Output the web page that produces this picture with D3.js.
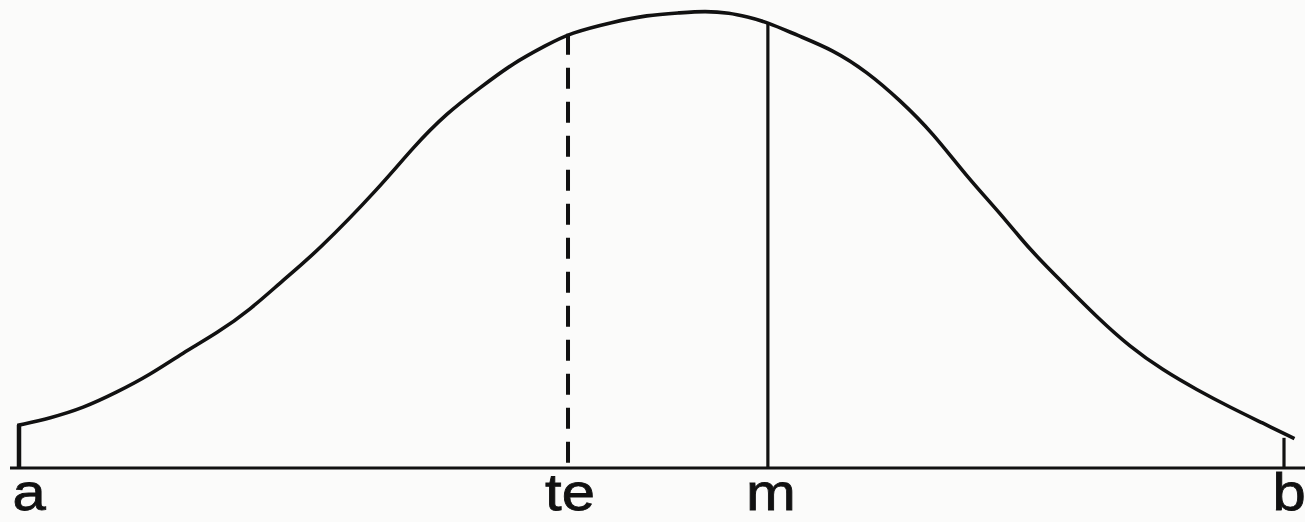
<!DOCTYPE html>
<html>
<head>
<meta charset="utf-8">
<script src="https://cdn.jsdelivr.net/npm/d3@7"></script>
<style>
  html, body { margin: 0; padding: 0; background: #fbfbfa; }
  svg { display: block; }
</style>
</head>
<body>
<script>
// curve samples (t: position between a and b, v: relative height)
const curveT = [0, 2.45, 5.06, 7.75, 10.36, 12.96, 15.65, 18.26, 20.87, 23.56, 28.54, 31.15, 33.83, 36.44, 39.05, 41.74, 43.56, 46.96, 49.64, 52.25, 54.23, 56.21, 57.55, 59.13, 61.5, 64.35, 67.04, 69.64, 72.25, 74.94, 77.55, 79.92, 82.53, 85.22, 87.83, 90.43, 93.12, 95.73, 98.34, 100.7];
const curveV = [9.4, 10.9, 13.1, 16.6, 20.4, 25.2, 29.5, 34.6, 41.1, 47.3, 61.5, 70.2, 77.7, 83.2, 88.6, 92.6, 95.2, 97.6, 99.1, 99.6, 100, 99.6, 98.7, 97.6, 94.7, 91.5, 86.7, 80.5, 73.3, 63.7, 55.8, 47.7, 40.5, 33.0, 26.5, 21.4, 17.1, 13.3, 9.8, 6.6];

// marked positions on the base line
const markLabels = ["a", "te", "m", "b"];
const markT = [0, 43.4, 59.2, 100];
const markTop = [9.4, 95.0, 97.4, 6.6];

const width = 1305, height = 522;

const x = d3.scaleLinear().domain([0, 100]).range([19, 1284]);
const y = d3.scaleLinear().domain([0, 100]).range([468, 11]);

const svg = d3.select('body').append('svg')
    .attr('width', width)
    .attr('height', height)
    .attr('viewBox', [0, 0, width, height]);

const ink = '#111';

const pts = curveT.map((t, i) => [t, curveV[i]]);

// basis smooths out the reading noise
const line = d3.line()
    .x(d => x(d[0]))
    .y(d => y(d[1]))
    .curve(d3.curveBasis);

svg.append('path')
    .datum(pts)
    .attr('d', line)
    .attr('fill', 'none')
    .attr('stroke', ink)
    .attr('stroke-width', 3.6)
    .attr('stroke-linecap', 'square')
    .attr('stroke-linejoin', 'round');

// base line
svg.append('line')
    .attr('x1', 10).attr('x2', width)
    .attr('y1', y(0)).attr('y2', y(0))
    .attr('stroke', ink)
    .attr('stroke-width', 3.2);

// verticals at a, te, m, b (drawn from the curve down)
svg.selectAll('line.mark')
    .data(markT)
    .join('line')
    .attr('class', 'mark')
    .attr('x1', d => x(d)).attr('x2', d => x(d))
    .attr('y1', (d, i) => y(markTop[i]))
    .attr('y2', y(0))
    .attr('stroke', ink)
    .attr('stroke-width', (d, i) => i == 0 ? 4.5 : (i == 1 ? 4 : 3.2))
    .attr('stroke-dasharray', (d, i) => i == 1 ? '21,13' : null);

// labels
const labelX = [29, 570, 771, 1289];
svg.selectAll('text.lab')
    .data(markLabels)
    .join('text')
    .attr('class', 'lab')
    .attr('transform', (d, i) => `translate(${labelX[i]},510) scale(1.15,1)`)
    .attr('text-anchor', 'middle')
    .attr('font-family', 'Liberation Sans, Arial, sans-serif')
    .attr('font-size', 52)
    .attr('fill', ink)
    .attr('stroke', ink)
    .attr('stroke-width', 0.8)
    .text(d => d);
</script>
</body>
</html>
